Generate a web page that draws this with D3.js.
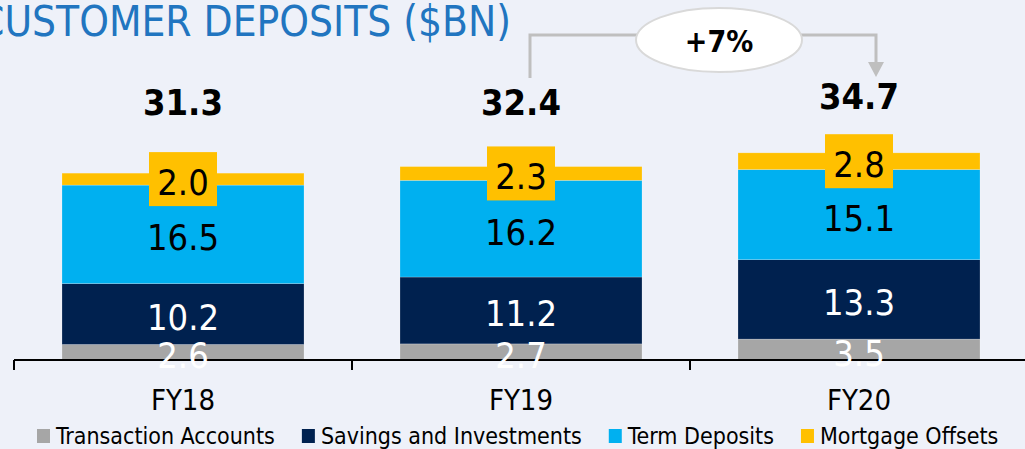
<!DOCTYPE html>
<html>
<head>
<meta charset="utf-8">
<script src="https://cdn.jsdelivr.net/npm/d3@7"></script>
<style>
  html, body { margin: 0; padding: 0; background: #eef1f9; }
  svg { display: block; font-family: "DejaVu Sans Condensed", "DejaVu Sans", sans-serif; }
</style>
</head>
<body>
<svg id="chart" width="1025" height="449"></svg>
<script>
// data
var years = ['FY18', 'FY19', 'FY20'];
var seriesNames = ['Transaction Accounts', 'Savings and Investments', 'Term Deposits', 'Mortgage Offsets'];
var transaction = [2.6, 2.7, 3.5];
var savings = [10.2, 11.2, 13.3];
var term = [16.5, 16.2, 15.1];
var mortgage = [2.0, 2.3, 2.8];
var totals = [31.3, 32.4, 34.7];
var growthLabel = '+7%';

var colors = ['#a6a6a6', '#00214f', '#00b0f0', '#ffc000'];
var labelColors = ['#ffffff', '#ffffff', '#000000', '#000000'];

var width = 1025, height = 449;
var baseY = 360;

var svg = d3.select('#chart');

svg.append('rect')
  .attr('width', width)
  .attr('height', height)
  .attr('fill', '#eef1f9');

// build rows for d3.stack
var rows = years.map(function(y, i) {
  return {
    year: y,
    'Transaction Accounts': transaction[i],
    'Savings and Investments': savings[i],
    'Term Deposits': term[i],
    'Mortgage Offsets': mortgage[i]
  };
});
var stacked = d3.stack().keys(seriesNames)(rows);

var x = d3.scaleBand()
  .domain(years)
  .range([14, 1028])
  .paddingInner(0.284)
  .paddingOuter(0.142);

var y = d3.scaleLinear()
  .domain([0, 40])
  .range([baseY, baseY - 40 * 5.97]);

// title (the slide crop cuts its first letter at the left edge)
svg.append('text')
  .attr('x', 511)
  .attr('y', 36)
  .attr('text-anchor', 'end')
  .attr('fill', '#2175c0')
  .style('font-size', '42px')
  .text('CUSTOMER DEPOSITS ($BN)');

// stacked bars
var layers = svg.append('g').selectAll('g')
  .data(stacked)
  .join('g')
    .attr('fill', function(d, i) { return colors[i]; });

layers.selectAll('rect')
  .data(function(d) { return d; })
  .join('rect')
    .attr('x', function(d) { return x(d.data.year); })
    .attr('y', function(d) { return y(d[1]); })
    .attr('width', x.bandwidth())
    .attr('height', function(d) { return y(d[0]) - y(d[1]); })
    .attr('stroke', 'rgba(255,255,255,0.35)')
    .attr('stroke-width', 0.6);

// axis line with category dividers
var step = x.step();
var dividers = years.map(function(yr) { return x(yr) - step * x.paddingInner() / 2; });

svg.append('line')
  .attr('x1', dividers[0]).attr('x2', width)
  .attr('y1', baseY).attr('y2', baseY)
  .attr('stroke', '#000').attr('stroke-width', 2);

svg.append('g').selectAll('line')
  .data(dividers)
  .join('line')
    .attr('x1', function(d) { return d; })
    .attr('x2', function(d) { return d; })
    .attr('y1', baseY)
    .attr('y2', baseY + 10)
    .attr('stroke', '#000')
    .attr('stroke-width', 2);

// segment labels
stacked.forEach(function(layer, li) {
  var g = svg.append('g');
  layer.forEach(function(d) {
    var cx = x(d.data.year) + x.bandwidth() / 2;
    var cy = (y(d[0]) + y(d[1])) / 2;
    if (li === 3) {
      // mortgage offsets get a yellow tag behind the number
      g.append('rect')
        .attr('x', cx - 34)
        .attr('y', cy - 27)
        .attr('width', 68)
        .attr('height', 54)
        .attr('fill', colors[3]);
    }
    g.append('text')
      .attr('x', cx)
      .attr('y', cy + 3)
      .attr('dy', '0.36em')
      .attr('text-anchor', 'middle')
      .attr('fill', labelColors[li])
      .style('font-size', '36px')
      .text(d3.format('.1f')(d[1] - d[0]));
  });
});

// totals above bars
svg.append('g').selectAll('text')
  .data(totals)
  .join('text')
    .attr('x', function(d, i) { return x(years[i]) + x.bandwidth() / 2; })
    .attr('y', function(d) { return Math.min(115, y(d) - 44); })
    .attr('text-anchor', 'middle')
    .attr('fill', '#000')
    .style('font-size', '36px')
    .style('font-weight', 'bold')
    .text(function(d) { return d3.format('.1f')(d); });

// growth arrow FY19 -> FY20
var x19 = x('FY19') + x.bandwidth() / 2 + 9;
var x20 = x('FY20') + x.bandwidth() / 2 + 17;
var arrowTop = 35;

svg.append('path')
  .attr('d', 'M' + x19 + ',78 V' + arrowTop + ' H' + x20 + ' V63')
  .attr('fill', 'none')
  .attr('stroke', '#bfbfbf')
  .attr('stroke-width', 3);

svg.append('path')
  .attr('d', 'M' + (x20 - 8) + ',62 L' + (x20 + 8) + ',62 L' + x20 + ',77 Z')
  .attr('fill', '#bfbfbf');

var bubbleX = (x19 + x20) / 2 + 16;
svg.append('ellipse')
  .attr('cx', bubbleX)
  .attr('cy', 40)
  .attr('rx', 83)
  .attr('ry', 32)
  .attr('fill', '#fff')
  .attr('stroke', '#d9d9d9')
  .attr('stroke-width', 2);

svg.append('text')
  .attr('x', bubbleX)
  .attr('y', 52)
  .attr('text-anchor', 'middle')
  .attr('fill', '#000')
  .style('font-size', '30px')
  .style('font-weight', 'bold')
  .text(growthLabel);

// category labels
svg.append('g').selectAll('text')
  .data(years)
  .join('text')
    .attr('x', function(d) { return x(d) + x.bandwidth() / 2; })
    .attr('y', 410)
    .attr('text-anchor', 'middle')
    .attr('fill', '#000')
    .style('font-size', '29px')
    .text(function(d) { return d; });

// legend
var legend = svg.append('g');
var lx = 37;
seriesNames.forEach(function(name, i) {
  legend.append('rect')
    .attr('x', lx)
    .attr('y', 429)
    .attr('width', 13)
    .attr('height', 14)
    .attr('fill', colors[i]);
  var t = legend.append('text')
    .attr('x', lx + 19)
    .attr('y', 444)
    .attr('fill', '#000')
    .style('font-size', '23px')
    .text(name);
  lx = lx + 19 + t.node().getComputedTextLength() + 27;
});
</script>
</body>
</html>
